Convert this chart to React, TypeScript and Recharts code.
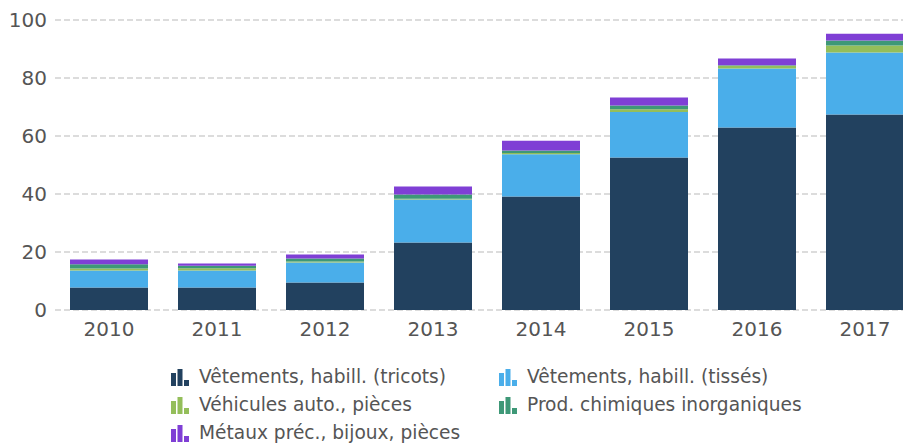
import React from 'react';
import { BarChart, Bar, XAxis, YAxis, CartesianGrid } from 'recharts';

const years = ['2010', '2011', '2012', '2013', '2014', '2015', '2016', '2017'];
const tricots = [7.8, 7.8, 9.5, 23.3, 39.1, 52.6, 62.9, 67.4];
const tisses = [5.8, 5.8, 6.9, 14.8, 14.6, 15.7, 20.4, 21.4];
const vehicules = [0.7, 0.8, 0.3, 0.3, 0.4, 0.9, 0.9, 2.4];
const chimiques = [1.5, 0.9, 1.1, 1.4, 0.9, 1.3, 0.2, 1.7];
const metaux = [1.6, 0.7, 1.3, 2.8, 3.4, 2.8, 2.3, 2.4];
const yTicks = [0, 20, 40, 60, 80, 100];

const series = [
  { key: 'tricots', name: 'Vêtements, habill. (tricots)', color: '#22415F', values: tricots },
  { key: 'tisses', name: 'Vêtements, habill. (tissés)', color: '#4AAEEA', values: tisses },
  { key: 'vehicules', name: 'Véhicules auto., pièces', color: '#94BE5A', values: vehicules },
  { key: 'chimiques', name: 'Prod. chimiques inorganiques', color: '#3E9877', values: chimiques },
  { key: 'metaux', name: 'Métaux préc., bijoux, pièces', color: '#7F3FD5', values: metaux },
];

const data = years.map((year, i) => {
  const row: any = { year };
  series.forEach((s) => {
    row[s.key] = s.values[i];
  });
  return row;
});

const font = '"DejaVu Sans", Verdana, sans-serif';

// little "ıl." glyph like the original legend
function LegendIcon({ color }: { color: string }) {
  return (
    <svg width={18} height={17} style={{ display: 'block', marginTop: 2 }}>
      <rect x={0} y={4} width={5} height={13} fill={color} />
      <rect x={6.5} y={0} width={5} height={17} fill={color} />
      <rect x={13} y={11} width={5} height={6} fill={color} />
    </svg>
  );
}

export default function App() {
  return (
    <div style={{ position: 'relative', width: 903, height: 436, overflow: 'hidden', fontFamily: font }}>
      <BarChart
        width={911}
        height={332}
        data={data}
        margin={{ top: 12, right: 0, bottom: 0, left: 0 }}
        barSize={78}
      >
        <CartesianGrid vertical={false} stroke="#dcdcdc" strokeWidth={2} strokeDasharray="6 3" />
        <XAxis
          dataKey="year"
          height={30}
          axisLine={false}
          tickLine={false}
          tickMargin={6}
          tick={{ fontSize: 20, fill: '#555', fontFamily: font }}
        />
        <YAxis
          width={47}
          domain={[0, 100]}
          ticks={yTicks}
          axisLine={false}
          tickLine={false}
          tick={{ fontSize: 20, fill: '#555', fontFamily: font }}
        />
        {series.map((s) => (
          <Bar key={s.key} dataKey={s.key} name={s.name} stackId="a" fill={s.color} isAnimationActive={false} />
        ))}
      </BarChart>
      {series.map((s, i) => {
        const col = i % 2;
        const row = Math.floor(i / 2);
        return (
          <div
            key={s.key}
            style={{
              position: 'absolute',
              left: col === 0 ? 163 : 491,
              top: 354 + row * 28,
              height: 28,
              display: 'flex',
              alignItems: 'center',
              fontSize: 18.6,
              color: '#555',
              whiteSpace: 'nowrap',
            }}
          >
            <LegendIcon color={s.color} />
            <span style={{ marginLeft: 10 }}>{s.name}</span>
          </div>
        );
      })}
    </div>
  );
}
